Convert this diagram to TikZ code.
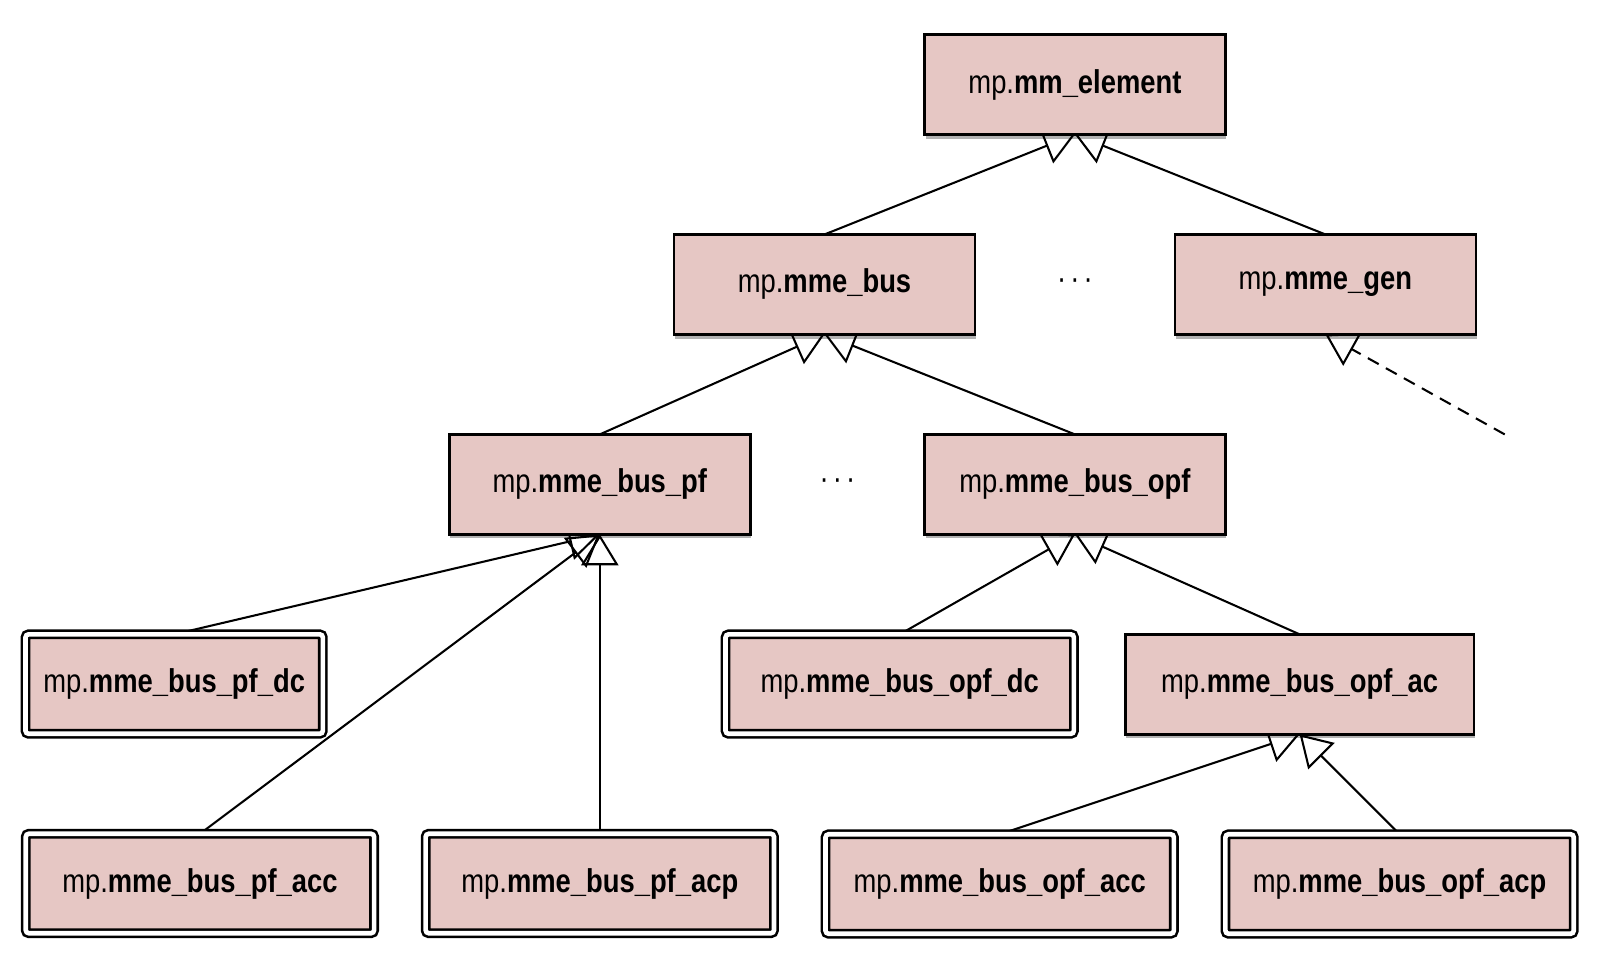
\documentclass[tikz,border=0pt]{standalone}
\usepackage{fontspec}
\setmainfont{Liberation Sans}[FakeStretch=0.83]
\usetikzlibrary{positioning,arrows.meta,shadows,backgrounds,calc}
\definecolor{boxpink}{RGB}{230,199,196}

\begin{document}
\begin{tikzpicture}[x=1pt,y=1pt,
  box/.style={draw, line width=2.5pt, fill=boxpink, minimum width=292pt,
    minimum height=97pt, inner sep=0pt, outer sep=0pt,
    font=\fontsize{32}{38}\selectfont,
    drop shadow={shadow xshift=1pt, shadow yshift=-4pt, fill=black, opacity=.3}},
  wide/.style={minimum width=338pt},
  dbox/.style={box, double=white, double distance=4.5pt, rounded corners=3pt,
    minimum width=288.5pt, minimum height=96.5pt},
  dots/.style={font=\fontsize{32}{38}\selectfont},
  isa/.style={-{Triangle[open,length=30pt,width=36pt]}, line width=2pt}]
  \useasboundingbox (0,0) rectangle (1568,934);
  \node [box] (mm) at (1043,852) {mp.\textbf{mm\_element}};
  \node [box] (bus) [below=97pt of mm, xshift=-243pt] {mp.\textbf{mme\_bus}};
  \node [box] (gen) [below=97pt of mm, xshift=243pt] {mp.\textbf{mme\_gen}};
  \node [box] (pf) [below=97pt of bus, xshift=-218pt] {mp.\textbf{mme\_bus\_pf}};
  \node [box] (opf) [below=97pt of bus, xshift=243pt] {mp.\textbf{mme\_bus\_opf}};
  \node [dbox] (pf_dc) [below=97pt of pf, xshift=-413pt] {mp.\textbf{mme\_bus\_pf\_dc}};
  \node [dbox, wide] (opf_dc) [below=97pt of opf, xshift=-170pt] {mp.\textbf{mme\_bus\_opf\_dc}};
  \node [box, wide] (opf_ac) [below=97pt of opf, xshift=218pt] {mp.\textbf{mme\_bus\_opf\_ac}};
  \node [dbox, wide] (pf_acc) [below=97pt of pf_dc, xshift=25pt] {mp.\textbf{mme\_bus\_pf\_acc}};
  \node [dbox, wide] (pf_acp) [below=97pt of pf_dc, xshift=413pt] {mp.\textbf{mme\_bus\_pf\_acp}};
  \node [dbox, wide] (opf_acc) [below=97pt of opf_ac, xshift=-291pt] {mp.\textbf{mme\_bus\_opf\_acc}};
  \node [dbox, wide] (opf_acp) [below=97pt of opf_ac, xshift=97pt] {mp.\textbf{mme\_bus\_opf\_acp}};
  \node [dots] (dots_1) at ($(bus)!0.5!(gen)$) {\textperiodcentered\hspace{4pt}\textperiodcentered\hspace{4pt}\textperiodcentered};
  \node [dots] (dots_2) at ($(pf)!0.5!(opf)$) {\textperiodcentered\hspace{4pt}\textperiodcentered\hspace{4pt}\textperiodcentered};
  \coordinate (gen_kid) at ($(gen.south)+(174,-97)$);
  \begin{scope}[on background layer]
    \path[isa]
    (bus.north) edge (mm.south)
    (gen.north) edge (mm.south)
    (pf.north) edge (bus.south)
    (opf.north) edge (bus.south)
    (pf_dc.north) edge (pf.south)
    (pf_acc.north) edge (pf.south)
    (pf_acp.north) edge (pf.south)
    (opf_dc.north) edge (opf.south)
    (opf_ac.north) edge (opf.south)
    (opf_acc.north) edge (opf_ac.south)
    (opf_acp.north) edge (opf_ac.south);
    \path[isa, dash pattern=on 12pt off 8pt]
    (gen_kid) edge (gen.south);
  \end{scope}
\end{tikzpicture}
\end{document}
